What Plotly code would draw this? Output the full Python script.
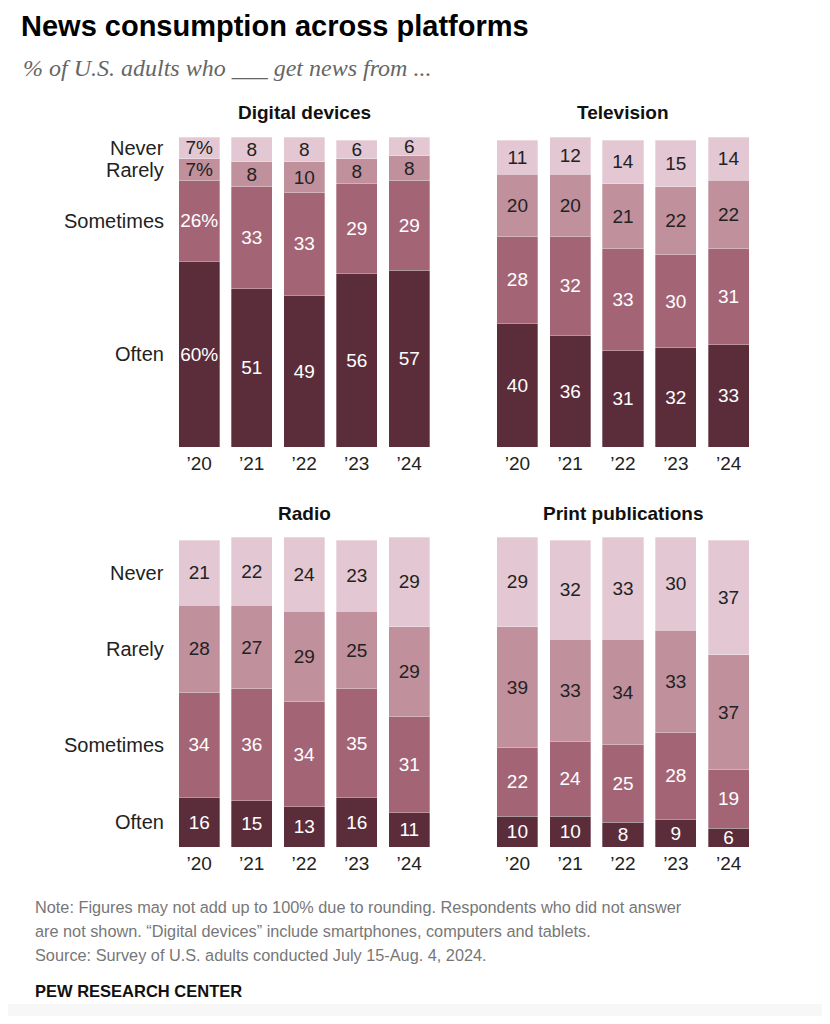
import plotly.graph_objects as go

years = ["\u201920", "\u201921", "\u201922", "\u201923", "\u201924"]
levels = ["Often", "Sometimes", "Rarely", "Never"]

digital_often = [60, 51, 49, 56, 57]
digital_sometimes = [26, 33, 33, 29, 29]
digital_rarely = [7, 8, 10, 8, 8]
digital_never = [7, 8, 8, 6, 6]

tv_often = [40, 36, 31, 32, 33]
tv_sometimes = [28, 32, 33, 30, 31]
tv_rarely = [20, 20, 21, 22, 22]
tv_never = [11, 12, 14, 15, 14]

radio_often = [16, 15, 13, 16, 11]
radio_sometimes = [34, 36, 34, 35, 31]
radio_rarely = [28, 27, 29, 25, 29]
radio_never = [21, 22, 24, 23, 29]

print_often = [10, 10, 8, 9, 6]
print_sometimes = [22, 24, 25, 28, 19]
print_rarely = [39, 33, 34, 33, 37]
print_never = [29, 32, 33, 30, 37]

panels = [
    ("Digital devices", [digital_often, digital_sometimes, digital_rarely, digital_never], True, True),
    ("Television", [tv_often, tv_sometimes, tv_rarely, tv_never], False, False),
    ("Radio", [radio_often, radio_sometimes, radio_rarely, radio_never], False, True),
    ("Print publications", [print_often, print_sometimes, print_rarely, print_never], False, False),
]

colors = ["#5b2d3b", "#a36576", "#c1909d", "#e3c8d3"]
text_colors = ["#ffffff", "#ffffff", "#222222", "#222222"]

OFF = 8
W, H = 830 - 2 * OFF, 1024 - 2 * OFF
def px(x):
    return (x - OFF) / W
def py(y):
    return 1 - (y - OFF) / H

xdoms = [[px(173), px(435.5)], [px(491), px(755)]]
ydoms = [[py(447), py(137)], [py(847), py(537)]]

NUM_FONT = "Liberation Sans, Arial, sans-serif"
NARROW = "Liberation Sans Narrow, Arial Narrow, Liberation Sans, sans-serif"

fig = go.Figure()
annotations = []
layout_axes = {}

for i, (title, series, pct, leftlabels) in enumerate(panels):
    n = i + 1
    xa = "x" if n == 1 else f"x{n}"
    ya = "y" if n == 1 else f"y{n}"
    col = i % 2
    row = i // 2
    for k, (lvl, vals) in enumerate(zip(levels, series)):
        texts = [f"{v}%" if (pct and j == 0) else str(v) for j, v in enumerate(vals)]
        fig.add_trace(go.Bar(
            x=years, y=vals, name=lvl, xaxis=xa, yaxis=ya,
            marker=dict(color=colors[k], line=dict(width=0.6, color="rgba(255,255,255,0.5)")),
            text=texts, textposition="inside", insidetextanchor="middle",
            textangle=0,
            textfont=dict(color=text_colors[k], size=19, family=NUM_FONT),
            showlegend=False, hoverinfo="skip", cliponaxis=False,
        ))
    xkey = "xaxis" if n == 1 else f"xaxis{n}"
    ykey = "yaxis" if n == 1 else f"yaxis{n}"
    layout_axes[xkey] = dict(domain=xdoms[col], anchor=ya, showgrid=False, zeroline=False,
                             showline=False, ticks="", tickfont=dict(size=19, color="#222", family=NUM_FONT),
                             ticklabelstandoff=3, fixedrange=True)
    layout_axes[ykey] = dict(domain=ydoms[row], anchor=xa, range=[0, 100], visible=False, fixedrange=True)
    annotations.append(dict(text=f"<b>{title}</b>", x=(xdoms[col][0] + xdoms[col][1]) / 2,
                            y=ydoms[row][1] + 24 / H, xref="paper", yref="paper",
                            xanchor="center", yanchor="middle", showarrow=False,
                            font=dict(size=19, color="#111", family=NARROW)))
    if leftlabels:
        cum = 0
        for k, lvl in enumerate(levels):
            v = series[k][0]
            center = cum + v / 2
            cum += v
            annotations.append(dict(text=lvl, x=px(166), y=center, xref="paper", yref=ya,
                                    xanchor="right", yanchor="middle", showarrow=False,
                                    font=dict(size=20, color="#222", family=NUM_FONT)))

annotations.append(dict(text="<b>News consumption across platforms</b>", x=px(19), y=1,
                        xref="paper", yref="paper", xanchor="left", yanchor="top", showarrow=False,
                        font=dict(size=29, color="#000", family=NARROW)))
annotations.append(dict(text="<i>% of U.S. adults who ___ get news from ...</i>", x=px(21), y=py(68),
                        xref="paper", yref="paper", xanchor="left", yanchor="middle", showarrow=False,
                        font=dict(size=24, color="#666", family="Liberation Serif, Georgia, serif")))
notes = ["Note: Figures may not add up to 100% due to rounding. Respondents who did not answer",
         "are not shown. \u201cDigital devices\u201d include smartphones, computers and tablets.",
         "Source: Survey of U.S. adults conducted July 15-Aug. 4, 2024."]
for j, line in enumerate(notes):
    annotations.append(dict(text=line, x=px(33), y=py(907 + 24 * j), xref="paper", yref="paper",
                            xanchor="left", yanchor="middle", showarrow=False,
                            font=dict(size=16.3, color="#777", family=NARROW)))
annotations.append(dict(text="<b>PEW RESEARCH CENTER</b>", x=px(33), y=py(991), xref="paper", yref="paper",
                        xanchor="left", yanchor="middle", showarrow=False,
                        font=dict(size=16.5, color="#111", family=NARROW)))

fig.update_layout(
    width=W, height=H, margin=dict(l=0, r=0, t=0, b=0),
    paper_bgcolor="white", plot_bgcolor="white",
    barmode="stack", bargap=0.22,
    uniformtext=dict(minsize=19, mode="show"),
    annotations=annotations,
    shapes=[dict(type="rect", xref="paper", yref="paper", x0=0, x1=1, y0=0, y1=py(1004),
                 fillcolor="#f7f7f7", line=dict(width=0), layer="below")],
    **layout_axes,
)

fig.write_html("out.html", config={"displayModeBar": False})
